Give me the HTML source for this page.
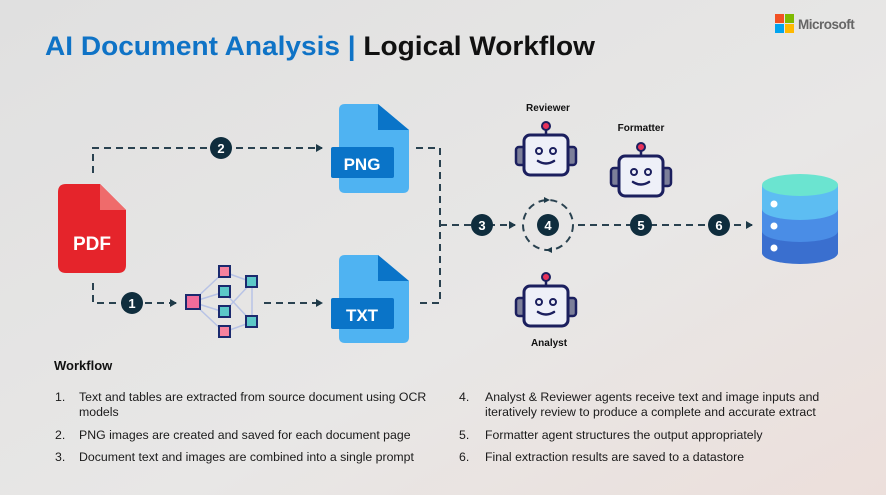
<!DOCTYPE html>
<html><head><style>
body{margin:0;width:886px;height:495px;overflow:hidden;font-family:"Liberation Sans",sans-serif;}
</style></head><body>
<svg width="886" height="495" viewBox="0 0 886 495" xmlns="http://www.w3.org/2000/svg" font-family="Liberation Sans, sans-serif">
<defs>
<linearGradient id="bg" x1="0" y1="0" x2="1" y2="1">
<stop offset="0" stop-color="#e0e0e0"/><stop offset="0.6" stop-color="#e8e7e6"/><stop offset="1" stop-color="#ecdfdb"/>
</linearGradient>
<marker id="ar" markerWidth="8" markerHeight="8" refX="6" refY="4" orient="auto" markerUnits="userSpaceOnUse"><path d="M0,0 L7,4 L0,8z" fill="#1e3a48"/></marker>
<g id="robot">
<line x1="31" y1="6" x2="31" y2="14" stroke="#1b1f5e" stroke-width="2.5"/>
<circle cx="31" cy="6" r="4" fill="#e8325a" stroke="#1b1f5e" stroke-width="2"/>
<rect x="1" y="27" width="10" height="18" rx="3" fill="#7c7f99" stroke="#1b1f5e" stroke-width="2.5"/>
<rect x="51" y="27" width="10" height="18" rx="3" fill="#7c7f99" stroke="#1b1f5e" stroke-width="2.5"/>
<rect x="9" y="15" width="44" height="40" rx="6" fill="#eef0f8" stroke="#1b1f5e" stroke-width="3"/>
<circle cx="24" cy="31" r="3" fill="none" stroke="#1b1f5e" stroke-width="2"/>
<circle cx="38" cy="31" r="3" fill="none" stroke="#1b1f5e" stroke-width="2"/>
<path d="M23,41 Q31,46 39,41" fill="none" stroke="#1b1f5e" stroke-width="2.5" stroke-linecap="round"/>
</g>
</defs>
<rect width="886" height="495" fill="url(#bg)"/>
<text x="45" y="55" font-size="27" font-weight="bold" fill="#0f73c6" textLength="550" lengthAdjust="spacingAndGlyphs">AI Document Analysis | <tspan fill="#111">Logical Workflow</tspan></text>
<rect x="775" y="14" width="9" height="9" fill="#f25022"/><rect x="785" y="14" width="9" height="9" fill="#7fba00"/>
<rect x="775" y="24" width="9" height="9" fill="#00a4ef"/><rect x="785" y="24" width="9" height="9" fill="#ffb900"/>
<text x="798" y="29" font-size="13.5" fill="#666" font-weight="bold" letter-spacing="-0.5">Microsoft</text>

<g stroke="#2a4250" stroke-width="2" stroke-dasharray="7,5" fill="none">
<path d="M93,173 V148 H322" marker-end="url(#ar)"/>
<path d="M93,283 V303 H176" marker-end="url(#ar)"/>
<path d="M264,303 H322" marker-end="url(#ar)"/>
<path d="M416,148 H440 V303 H416"/>
<path d="M440,225 H515" marker-end="url(#ar)"/>
<path d="M578,225 H752" marker-end="url(#ar)"/>
<circle cx="548" cy="225" r="25"/>
</g>
<path d="M544,197 l6,3 -6,3z" fill="#1e3a48"/><path d="M552,250 l-6,3 6,3z" fill="#1e3a48" transform="translate(0,-3)"/>

<path d="M66,184 H100 L126,210 V265 Q126,273 118,273 H66 Q58,273 58,265 V192 Q58,184 66,184z" fill="#e5242b"/>
<path d="M100,184 L126,210 H100z" fill="#ef6b6b"/>
<text x="92" y="250" font-size="19" font-weight="bold" fill="#fff" text-anchor="middle">PDF</text>
<path d="M345,104 H378 L409,130 V187 Q409,193 403,193 H345 Q339,193 339,187 V110 Q339,104 345,104z" fill="#4fb3f2"/>
<path d="M378,104 L409,130 H378z" fill="#0a74c8"/>
<rect x="331" y="147" width="63" height="31" rx="2" fill="#0a74c8"/>
<text x="362" y="170" font-size="17" font-weight="bold" fill="#fff" text-anchor="middle">PNG</text>
<path d="M345,255 H378 L409,281 V337 Q409,343 403,343 H345 Q339,343 339,337 V261 Q339,255 345,255z" fill="#4fb3f2"/>
<path d="M378,255 L409,281 H378z" fill="#0a74c8"/>
<rect x="331" y="298" width="63" height="31" rx="2" fill="#0a74c8"/>
<text x="362" y="321" font-size="17" font-weight="bold" fill="#fff" text-anchor="middle">TXT</text>

<g stroke="#b8c3e6" stroke-width="1.5">
<line x1="192" y1="302" x2="224" y2="272"/><line x1="192" y1="302" x2="224" y2="292"/><line x1="192" y1="302" x2="224" y2="312"/><line x1="192" y1="302" x2="224" y2="332"/>
<line x1="224" y1="272" x2="252" y2="282"/><line x1="224" y1="292" x2="252" y2="322"/><line x1="224" y1="312" x2="252" y2="282"/><line x1="224" y1="332" x2="252" y2="322"/><line x1="252" y1="282" x2="252" y2="322"/>
</g>
<g stroke="#1b2a6e" stroke-width="2">
<rect x="186" y="295" width="14" height="14" fill="#f06c9b"/>
<rect x="219" y="266" width="11" height="11" fill="#f7829e"/>
<rect x="219" y="286" width="11" height="11" fill="#5cc8c8"/>
<rect x="219" y="306" width="11" height="11" fill="#5cc8c8"/>
<rect x="219" y="326" width="11" height="11" fill="#f7829e"/>
<rect x="246" y="276" width="11" height="11" fill="#5cc8c8"/>
<rect x="246" y="316" width="11" height="11" fill="#5cc8c8"/>
</g>

<g font-size="13" font-weight="bold" fill="#fff" text-anchor="middle">
<circle cx="221" cy="148" r="11" fill="#0f2d3d"/><text x="221" y="153">2</text>
<circle cx="132" cy="303" r="11" fill="#0f2d3d"/><text x="132" y="308">1</text>
<circle cx="482" cy="225" r="11" fill="#0f2d3d"/><text x="482" y="230">3</text>
<circle cx="548" cy="225" r="11" fill="#0f2d3d"/><text x="548" y="230">4</text>
<circle cx="641" cy="225" r="11" fill="#0f2d3d"/><text x="641" y="230">5</text>
<circle cx="719" cy="225" r="11" fill="#0f2d3d"/><text x="719" y="230">6</text>
</g>

<use href="#robot" x="515" y="120"/>
<use href="#robot" x="610" y="141"/>
<use href="#robot" x="515" y="271"/>
<g font-size="10" font-weight="bold" fill="#111" text-anchor="middle">
<text x="548" y="111">Reviewer</text>
<text x="641" y="131">Formatter</text>
<text x="549" y="346">Analyst</text>
</g>

<path d="M762,185 V253 A38,11 0 0 0 838,253 V185z" fill="#3a6fcf"/>
<path d="M762,185 V231 A38,11 0 0 0 838,231 V185z" fill="#4a8de6"/>
<path d="M762,185 V209 A38,11 0 0 0 838,209 V185z" fill="#5dbdf2"/>
<ellipse cx="800" cy="185" rx="38" ry="11" fill="#6be4d0"/>
<circle cx="774" cy="204" r="3.5" fill="#fff"/><circle cx="774" cy="226" r="3.5" fill="#fff"/><circle cx="774" cy="248" r="3.5" fill="#fff"/>

<text x="54" y="370" font-size="13" font-weight="bold" fill="#111">Workflow</text>
<g font-size="12.3" fill="#1a1a1a">
<text x="55" y="401">1.</text><text x="79" y="401">Text and tables are extracted from source document using OCR</text>
<text x="79" y="416">models</text>
<text x="55" y="439">2.</text><text x="79" y="439">PNG images are created and saved for each document page</text>
<text x="55" y="461">3.</text><text x="79" y="461">Document text and images are combined into a single prompt</text>
<text x="459" y="401">4.</text><text x="485" y="401">Analyst &amp; Reviewer agents receive text and image inputs and</text>
<text x="485" y="416">iteratively review to produce a complete and accurate extract</text>
<text x="459" y="439">5.</text><text x="485" y="439">Formatter agent structures the output appropriately</text>
<text x="459" y="461">6.</text><text x="485" y="461">Final extraction results are saved to a datastore</text>
</g>
</svg>
</body></html>
